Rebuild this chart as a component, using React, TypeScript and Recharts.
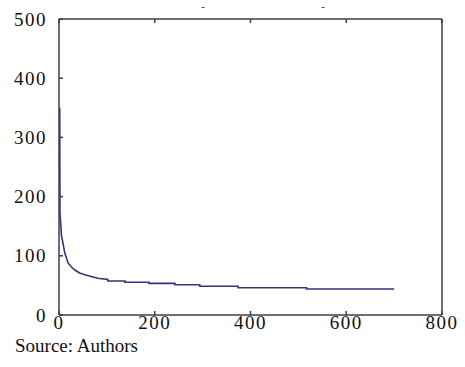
import { LineChart, Line, XAxis, YAxis } from 'recharts';

// readings (x = iteration, y = value)
const xValues = [1.5, 2, 4, 5, 7, 12, 19, 26, 33, 43, 54, 67, 81, 102, 102, 138, 138, 188, 188, 242, 242, 294, 294, 374, 374, 517, 517, 700];
const yValues = [350, 172, 150, 135, 127, 105, 88, 81, 76, 71, 68, 65, 62, 60, 57.4, 57.4, 55.2, 55.2, 53.5, 53.5, 51.2, 51.2, 48.5, 48.5, 46, 46, 44, 44];
const xTicks = [0, 200, 400, 600, 800];
const yTicks = [0, 100, 200, 300, 400, 500];

const data = xValues.map((x, i) => ({ x, y: yValues[i] }));

const AXIS = '#3a3f4a';
const LINE = '#34347c';
const FONT = '"Liberation Serif", "Times New Roman", serif';

function BottomTick({ x, y, payload }: any) {
  return (
    <g>
      <line x1={x} y1={y} x2={x} y2={y - 4} stroke={AXIS} strokeWidth={1.5} />
      <text x={x} y={y + 14} textAnchor="middle" fontFamily={FONT} fontSize={19} letterSpacing={1.5} fill="#111">
        {payload.value}
      </text>
    </g>
  );
}

function LeftTick({ x, y, payload }: any) {
  return (
    <g>
      <line x1={x} y1={y} x2={x + 4} y2={y} stroke={AXIS} strokeWidth={1.5} />
      <text x={x - 12} y={y} dy="0.35em" textAnchor="end" fontFamily={FONT} fontSize={19} letterSpacing={1.5} fill="#111">
        {payload.value}
      </text>
    </g>
  );
}

function TopTick({ x, y }: any) {
  return <line x1={x} y1={y} x2={x} y2={y + 4} stroke={AXIS} strokeWidth={1.5} />;
}

function RightTick({ x, y }: any) {
  return <line x1={x} y1={y} x2={x - 4} y2={y} stroke={AXIS} strokeWidth={1.5} />;
}

export default function App() {
  return (
    <div style={{ position: 'absolute', left: 0, top: 0, width: 465, height: 367, background: '#fff' }}>
      <LineChart width={465} height={367} data={data} margin={{ top: 18, right: 22, left: 9, bottom: 22 }}>
        <XAxis
          xAxisId="bottom"
          dataKey="x"
          type="number"
          domain={[0, 800]}
          ticks={xTicks}
          height={30}
          tickSize={0}
          tickMargin={0}
          tickLine={false}
          axisLine={{ stroke: AXIS, strokeWidth: 1.5 }}
          tick={<BottomTick />}
          interval={0}
        />
        <XAxis
          xAxisId="top"
          orientation="top"
          dataKey="x"
          type="number"
          domain={[0, 800]}
          ticks={xTicks}
          height={1}
          tickSize={0}
          tickMargin={0}
          tickLine={false}
          axisLine={{ stroke: AXIS, strokeWidth: 1.5 }}
          tick={<TopTick />}
          interval={0}
        />
        <YAxis
          yAxisId="left"
          type="number"
          domain={[0, 500]}
          ticks={yTicks}
          width={50}
          tickSize={0}
          tickMargin={0}
          tickLine={false}
          axisLine={{ stroke: AXIS, strokeWidth: 1.5 }}
          tick={<LeftTick />}
          interval={0}
        />
        <YAxis
          yAxisId="right"
          orientation="right"
          type="number"
          domain={[0, 500]}
          ticks={yTicks}
          width={1}
          tickSize={0}
          tickMargin={0}
          tickLine={false}
          axisLine={{ stroke: AXIS, strokeWidth: 1.5 }}
          tick={<RightTick />}
          interval={0}
        />
        <Line
          xAxisId="bottom"
          yAxisId="left"
          type="linear"
          dataKey="y"
          stroke={LINE}
          strokeWidth={1.6}
          dot={false}
          isAnimationActive={false}
        />
      </LineChart>
      <span style={{ position: 'absolute', left: 201, top: 0, fontFamily: FONT, fontSize: 12, lineHeight: '14px', color: '#555' }}>-</span>
      <span style={{ position: 'absolute', left: 321, top: 0, fontFamily: FONT, fontSize: 12, lineHeight: '14px', color: '#555' }}>-</span>
      <div style={{ position: 'absolute', left: 15, top: 335, fontFamily: FONT, fontSize: 19, color: '#111', whiteSpace: 'nowrap' }}>
        Source: Authors
      </div>
    </div>
  );
}
